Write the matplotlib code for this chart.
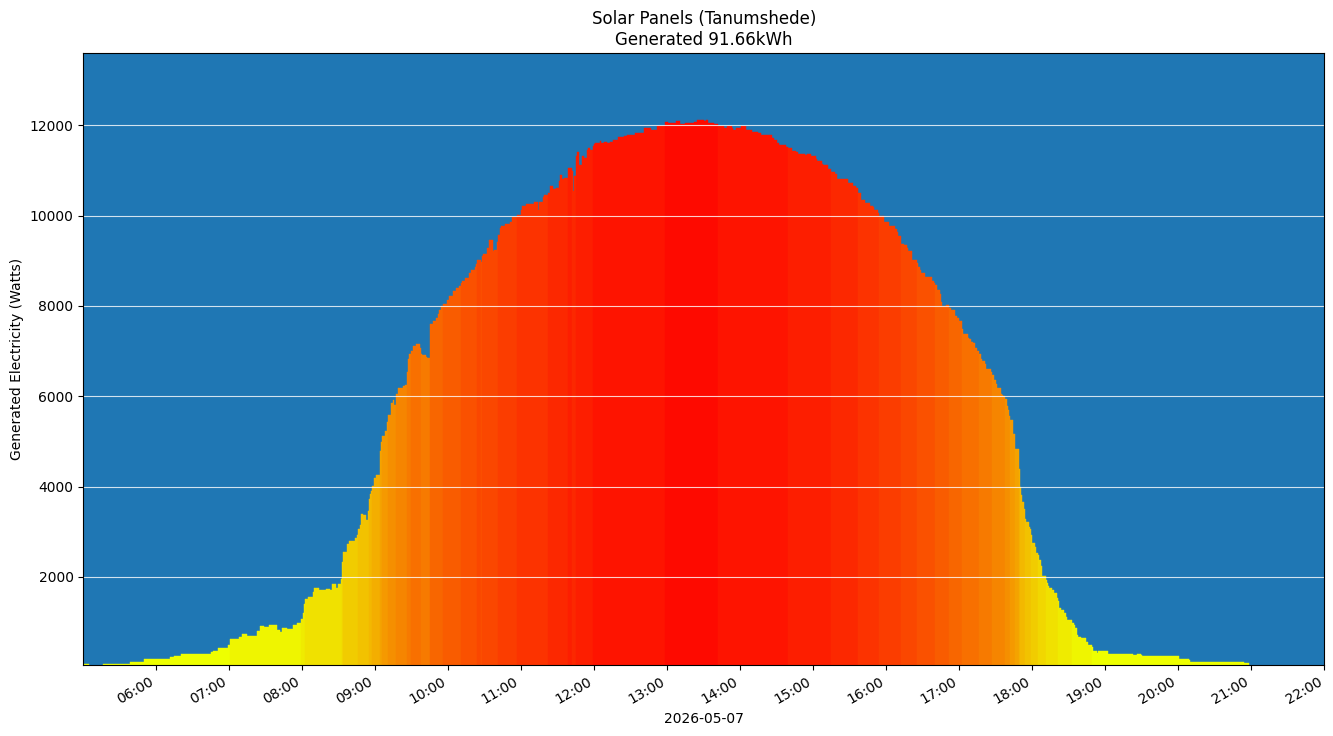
import datetime as dt
import matplotlib
matplotlib.use("Agg")
import matplotlib.pyplot as plt
import matplotlib.dates as mdates
from matplotlib.colors import LinearSegmentedColormap, Normalize

# ---------------- data ----------------
DAY = "2026-05-07"
TITLE = "Solar Panels (Tanumshede)\nGenerated 91.66kWh"
Y_LABEL = "Generated Electricity (Watts)"

# start time of each reading (HH:MM); each bar lasts until the next start
seg_start = [
    "05:00", "05:05", "05:17", "05:39", "05:50", "06:12", "06:15", "06:21", "06:45", "06:47",
    "06:51", "06:59", "07:01", "07:08", "07:11", "07:15", "07:18", "07:23", "07:26", "07:29",
    "07:33", "07:40", "07:42", "07:44", "07:48", "07:53", "07:56", "07:59", "08:01",
    "08:02", "08:03", "08:05", "08:09", "08:10", "08:14", "08:18", "08:20", "08:23", "08:25",
    "08:28", "08:30", "08:32", "08:33", "08:34", "08:37", "08:39", "08:44", "08:45", "08:46",
    "08:48", "08:49", "08:50", "08:53", "08:54", "08:55", "08:56", "08:57", "08:58", "08:59",
    "09:01", "09:04", "09:05", "09:06", "09:08", "09:10", "09:11", "09:13", "09:15", "09:16",
    "09:17", "09:19", "09:23", "09:25", "09:26", "09:27", "09:28", "09:30", "09:31", "09:34",
    "09:37", "09:38", "09:39", "09:42", "09:43", "09:45", "09:48", "09:50", "09:52", "09:53",
    "09:54", "09:56", "09:59", "10:01", "10:04", "10:07", "10:09", "10:11", "10:12", "10:14",
    "10:17", "10:19", "10:22", "10:23", "10:24", "10:27", "10:28", "10:29", "10:32", "10:34",
    "10:37", "10:38", "10:40", "10:41", "10:43", "10:44", "10:47", "10:51", "10:53", "10:57",
    "11:00", "11:01", "11:04", "11:11", "11:14", "11:15", "11:18", "11:19", "11:22", "11:24",
    "11:26", "11:29", "11:31", "11:32", "11:34", "11:35", "11:39", "11:42", "11:43", "11:44",
    "11:45", "11:46", "11:48", "11:50", "11:52", "11:54", "11:55", "11:57", "11:59", "12:00",
    "12:01", "12:05", "12:06", "12:08", "12:11", "12:13", "12:16", "12:20", "12:25", "12:27",
    "12:30", "12:34", "12:41", "12:43", "12:47", "12:52", "12:58", "13:01", "13:07", "13:11",
    "13:15", "13:22", "13:25", "13:30", "13:32", "13:34", "13:36", "13:39", "13:42", "13:47",
    "13:49", "13:53", "13:54", "13:57", "14:01", "14:05", "14:10", "14:12", "14:15", "14:17",
    "14:26", "14:28", "14:30", "14:32", "14:38", "14:39", "14:43", "14:46", "14:48",
    "14:53", "14:55", "14:58", "15:02", "15:03", "15:07", "15:08", "15:12", "15:15", "15:18",
    "15:20", "15:29", "15:33", "15:35", "15:37", "15:39", "15:43", "15:47", "15:49", "15:50",
    "15:53", "15:54", "15:58", "16:02", "16:07", "16:09", "16:10", "16:12", "16:15", "16:17",
    "16:18", "16:21", "16:25", "16:26", "16:28", "16:29", "16:32", "16:38", "16:39", "16:40",
    "16:42", "16:44", "16:45", "16:46", "16:49", "16:52", "16:53", "16:57", "16:58", "17:00",
    "17:02", "17:03", "17:07", "17:08", "17:10", "17:11", "17:13", "17:15", "17:16", "17:18",
    "17:19", "17:21", "17:22", "17:26", "17:27", "17:29", "17:30", "17:31", "17:34", "17:35",
    "17:36", "17:38", "17:39", "17:40", "17:41", "17:42", "17:44", "17:46", "17:49", "17:50",
    "17:51", "17:52", "17:53", "17:54", "17:55", "17:57", "17:58", "17:59", "18:00", "18:02",
    "18:03", "18:05", "18:06", "18:07", "18:08", "18:11", "18:12", "18:13", "18:14", "18:16",
    "18:18", "18:20", "18:21", "18:22", "18:24", "18:26", "18:28", "18:29", "18:32", "18:33",
    "18:34", "18:35", "18:37", "18:38", "18:40", "18:44", "18:46", "18:49", "18:50", "18:53",
    "18:54", "18:58", "19:02", "19:23", "19:26", "19:29", "19:30", "20:01", "20:09", "20:10",
    "20:54", "20:58",
]
seg_end = "21:00"

seg_watts = [
    75, 30, 75, 125, 185, 230, 250, 295, 335, 370,
    430, 495, 630, 670, 740, 700, 695, 805, 915, 880,
    940, 830, 790, 870, 850, 940, 990, 1065, 1210,
    1390, 1510, 1560, 1660, 1760, 1710, 1700, 1740, 1700, 1850,
    1760, 1850, 1960, 2340, 2560, 2720, 2790, 2860, 2920, 3070,
    3160, 3390, 3360, 3270, 3470, 3720, 3840, 3900, 4020, 4190,
    4250, 4790, 4990, 5120, 5230, 5430, 5590, 5850, 5920, 5810,
    6050, 6180, 6230, 6250, 6540, 6830, 6940, 7010, 7120, 7160,
    7070, 6940, 6920, 6870, 6850, 7610, 7670, 7740, 7830, 7920,
    7990, 8050, 8140, 8210, 8340, 8390, 8450, 8500, 8560, 8610,
    8720, 8790, 8860, 8920, 9010, 8970, 9100, 9160, 9290, 9470,
    9210, 9230, 9410, 9570, 9730, 9760, 9820, 9860, 9960, 10010,
    10120, 10220, 10250, 10300, 10130, 10300, 10410, 10450, 10500, 10660,
    10580, 10620, 10760, 10890, 10820, 10840, 11060, 10990, 10550, 10870,
    11320, 11400, 11110, 11310, 11280, 11460, 11490, 11460, 11550, 11580,
    11600, 11650, 11600, 11640, 11600, 11620, 11670, 11730, 11760, 11780,
    11790, 11820, 11940, 11930, 11900, 11980, 12070, 12040, 12090, 12020,
    12040, 12070, 12110, 12090, 12110, 12050, 12040, 12020, 11980, 11950,
    11980, 11930, 11900, 11950, 11980, 11900, 11850, 11840, 11820, 11780,
    11720, 11680, 11610, 11560, 11520, 11490, 11440, 11400, 11370,
    11340, 11370, 11330, 11260, 11200, 11150, 11110, 11040, 10970, 10910,
    10800, 10730, 10650, 10600, 10490, 10350, 10270, 10220, 10180, 10120,
    10060, 9990, 9860, 9770, 9710, 9630, 9540, 9380, 9340, 9290,
    9220, 9010, 8950, 8860, 8790, 8720, 8630, 8550, 8510, 8460,
    8360, 8270, 8090, 8000, 8020, 7960, 7900, 7780, 7730, 7670,
    7480, 7370, 7300, 7260, 7200, 7170, 7060, 7000, 6930, 6830,
    6780, 6720, 6610, 6530, 6470, 6350, 6270, 6190, 6060, 6020,
    6000, 5930, 5780, 5700, 5560, 5470, 5170, 4840, 4400, 3990,
    3810, 3660, 3510, 3290, 3220, 3110, 3070, 2930, 2760, 2660,
    2540, 2490, 2380, 2250, 2020, 1930, 1860, 1790, 1760, 1710,
    1640, 1530, 1470, 1320, 1270, 1200, 1120, 1040, 1050, 980,
    940, 870, 720, 680, 650, 550, 500, 440, 360, 310,
    360, 350, 300, 260, 300, 260, 240, 190, 150, 120,
    85, 30,
]

X_START = "05:00:30"
X_END = "22:00"
Y_MIN, Y_MAX = 50, 13600

# colour scale: watts binned into 500 W steps, yellow (low) -> red (high)
COLOR_STEP = 500
COLOR_TOP = 12500

# ---------------- helpers ----------------
def to_dt(hhmm):
    fmt = "%Y-%m-%d %H:%M:%S" if hhmm.count(":") == 2 else "%Y-%m-%d %H:%M"
    return dt.datetime.strptime(f"{DAY} {hhmm}", fmt)

starts = [to_dt(s) for s in seg_start]
ends = starts[1:] + [to_dt(seg_end)]
x_num = mdates.date2num(starts)
x_end = mdates.date2num(ends)
widths = [e - s for s, e in zip(x_num, x_end)]

cmap = LinearSegmentedColormap.from_list("sun", ["#eeff00", "#ff0000"])
norm = Normalize(vmin=0, vmax=COLOR_TOP)
colors = [cmap(norm((v // COLOR_STEP) * COLOR_STEP)) for v in seg_watts]

# ---------------- figure ----------------
fig = plt.figure(figsize=(13.33, 7.36), dpi=100)
ax = fig.add_axes([0.0625, 0.0965, 0.931, 0.8315])
ax.set_facecolor("#1f77b4")

ax.bar(x_num, seg_watts, width=widths, align="edge", color=colors,
       edgecolor=colors, linewidth=0.3)

ax.set_xlim(to_dt(X_START), to_dt(X_END))
ax.set_ylim(Y_MIN, Y_MAX)
ax.xaxis.set_major_locator(mdates.HourLocator())
ax.xaxis.set_major_formatter(mdates.DateFormatter("%H:%M"))
for lbl in ax.get_xticklabels():
    lbl.set_rotation(30)
    lbl.set_ha("right")

ax.grid(axis="y", color="white", linewidth=0.8, alpha=0.8)
ax.set_xlabel(DAY)
ax.set_ylabel(Y_LABEL)
ax.set_title(TITLE)

fig.savefig("out.png", dpi=100)
